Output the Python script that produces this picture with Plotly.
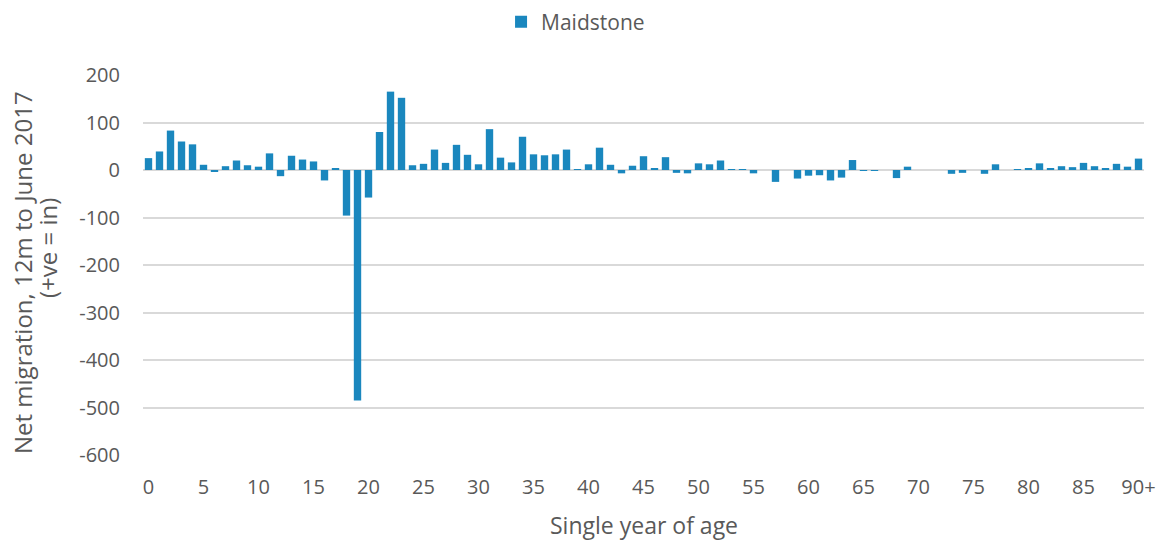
import plotly.graph_objects as go

ages = list(range(91))
net_migration = [
    25, 39, 83, 60, 54, 11, -3, 8, 20, 10,
    7, 35, -13, 30, 22, 18, -22, 4, -96, -485,
    -58, 80, 165, 152, 10, 13, 43, 15, 53, 32,
    12, 86, 26, 16, 70, 33, 31, 33, 43, 2,
    12, 47, 11, -7, 9, 29, 4, 27, -6, -7,
    14, 12, 20, 1, 2, -7, 0, -25, 0, -18,
    -12, -11, -22, -16, 21, -2, -2, 0, -17, 7,
    0, 0, 0, -8, -6, 0, -8, 12, 0, 2,
    4, 14, 3, 8, 6, 15, 8, 3, 13, 7,
    24,
]
x_tick_vals = list(range(0, 91, 5))
x_tick_text = [str(v) for v in range(0, 90, 5)] + ["90+"]
y_tick_vals = list(range(-600, 201, 100))
y_tick_text = [str(v) for v in y_tick_vals]  # plain hyphen minus, like the source

font = "Open Sans, Liberation Sans, sans-serif"
grey = "#595959"

fig = go.Figure(go.Bar(
    x=ages,
    y=net_migration,
    name="Maidstone",
    marker=dict(color="#1a87be", line=dict(width=0)),
))

fig.update_layout(
    width=1162,
    height=540,
    margin=dict(l=143, r=18, t=75, b=85),
    paper_bgcolor="white",
    plot_bgcolor="white",
    bargap=0.33,
    showlegend=True,
    legend=dict(
        orientation="h", xref="container", x=0.4312, xanchor="left",
        yref="container", y=0.9593, yanchor="middle",
        font=dict(family=font, size=21, color=grey),
        itemwidth=30,
    ),
    font=dict(family=font, color=grey),
)

fig.update_xaxes(
    range=[-0.5, 90.5],
    tickvals=x_tick_vals,
    ticktext=x_tick_text,
    ticks="",
    showgrid=False,
    tickfont=dict(size=20, color=grey),
    ticklabelstandoff=18,
    showline=False,
    zeroline=False,
    automargin=False,
)
fig.update_yaxes(
    range=[-600, 200],
    tickvals=y_tick_vals,
    ticktext=y_tick_text,
    tickfont=dict(size=20, color=grey),
    gridcolor="#d9d9d9",
    gridwidth=1.5,
    zeroline=True,
    zerolinecolor="#d9d9d9",
    zerolinewidth=1.5,
    ticks="",
    ticklabelstandoff=22,
    automargin=False,
)

title_font = dict(family=font, size=24, color=grey)
fig.add_annotation(
    text="Single year of age", xref="paper", yref="paper", x=0.5, y=0,
    xanchor="center", yanchor="middle", yshift=-70, showarrow=False,
    font=dict(family=font, size=23, color=grey),
)
fig.add_annotation(
    text="Net migration, 12m to June 2017", xref="paper", yref="paper",
    x=0, y=0.5, xanchor="center", yanchor="middle", xshift=-121, yshift=-8,
    textangle=-90, showarrow=False, font=title_font,
)
fig.add_annotation(
    text="(+ve = in)", xref="paper", yref="paper",
    x=0, y=0.5, xanchor="center", yanchor="middle", xshift=-96, yshift=17,
    textangle=-90, showarrow=False, font=title_font,
)

# drop the browser's default body margin so the figure fills the window exactly
fig.write_html(
    "out.html",
    config={"displayModeBar": False},
    post_script="document.body.style.margin = '0';",
)
